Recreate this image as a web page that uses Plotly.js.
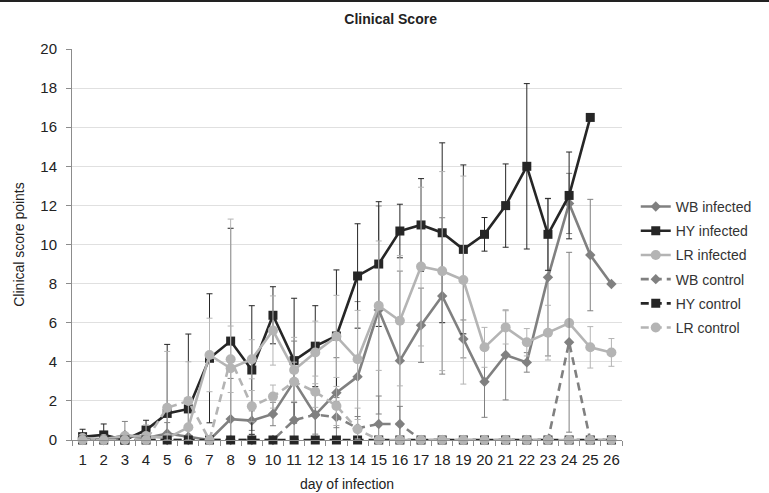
<!DOCTYPE html>
<html>
<head>
<meta charset="utf-8">
<script src="https://cdn.plot.ly/plotly-3.0.1.min.js"></script>
<style>
html,body{margin:0;padding:0;background:#fff;}
#bar{width:769px;height:2px;background:#222;}
#chart{width:769px;height:491px;}
</style>
</head>
<body>
<div id="bar"></div>
<div id="chart"></div>
<script>
const days = ['1','2','3','4','5','6','7','8','9','10','11','12','13','14','15','16','17','18','19','20','21','22','23','24','25','26'];

const wbInf    = [0.1,0.0,0.25,0.1,0.33,0.17,0.0,1.07,0.99,1.33,3.0,1.28,2.42,3.24,6.65,4.06,5.87,7.37,5.17,2.98,4.35,3.97,8.32,12.1,9.46,7.98];
const wbInfErr = [0,0,0.7,0,0.56,0,0,2.08,0.5,0.6,2.06,1.2,1.79,3.84,5.32,4.58,1.9,4.0,0.97,1.82,2.3,0.5,4.02,1.54,2.85,0];

const hyInf    = [0.17,0.26,0.0,0.51,1.36,1.59,4.18,5.06,3.58,6.38,4.06,4.8,5.32,8.39,9.0,10.69,11.0,10.6,9.75,10.52,11.99,14.0,10.52,12.51,16.5,null];
const hyInfErr = [0.38,0.56,0,0.5,3.53,3.83,3.3,5.77,3.29,1.46,3.19,2.07,3.38,2.67,3.19,1.37,2.37,4.6,4.32,0.86,2.13,4.23,1.84,2.22,0,0];

const lrInf    = [0.1,0.05,0.2,0.2,0.1,0.65,4.35,3.67,4.13,5.6,3.58,4.48,5.3,4.13,6.87,6.1,8.87,8.64,8.18,4.74,5.76,5.0,5.49,5.98,4.74,4.48];
const lrInfErr = [0,0,0,0.57,0,0,1.88,7.63,1.0,1.77,1.67,1.6,2.1,2.5,3.31,3.33,4.06,5.09,5.32,1.02,0.85,0.7,1.4,0,1.06,0.71];

const wbCtl    = [0,0,0,0,0,0,0,0,0,0,1.02,1.3,1.17,0.6,0.82,0.82,0,0,0,0,0,0,0,5.0,0,0];
const wbCtlErr = [0,0,0,0,0,0,0,0,0,0,0.9,1.0,1.0,0.6,1.43,0.9,0,0,0,0,0,0,0,4.6,0,0];

const hyCtl    = [0,0,0,0,0,0,0,0,0,0,0,0,0,0,0,0,0,0,0,0,0,0,0,0,0,0];
const hyCtlErr = [0,0,0,0,0,0,0,0,0,0,0,0,0,0,0,0,0,0,0,0,0,0,0,0,0,0];

const lrCtl    = [0,0,0,0,1.65,2.0,0,4.13,1.73,2.22,2.98,2.47,1.74,0.55,0,0,0,0,0,0,0,0,0,0,0,0];
const lrCtlErr = [0,0,0,0,2.88,2.0,0,1.7,0.8,0.59,1.0,0.8,1.0,0.5,0,0,0,0,0,0,0,0,0,0,0,0];

const seriesNames = ['WB infected','HY infected','LR infected','WB control','HY control','LR control'];

const cWB = '#808080', cHY = '#262626', cLR = '#b4b4b4';

function mk(name, y, err, color, symbol, size, dash){
  const minus = err.map((e,i)=> (y[i]===null ? 0 : Math.min(e, y[i])));
  return {
    type:'scatter', mode:'lines+markers', x:days, y:y, name:name,
    legendgroup:name, cliponaxis:false,
    line:{color:color, width:2.6, dash:dash},
    marker:{color:color, symbol:symbol, size:size},
    error_y:{type:'data', symmetric:false, array:err, arrayminus:minus,
             color:color, thickness:1, width:3, visible:true}
  };
}

const data = [
  mk(seriesNames[0], wbInf, wbInfErr, cWB, 'diamond', 8, 'solid'),
  mk(seriesNames[1], hyInf, hyInfErr, cHY, 'square', 9, 'solid'),
  mk(seriesNames[2], lrInf, lrInfErr, cLR, 'circle', 10, 'solid'),
  mk(seriesNames[3], wbCtl, wbCtlErr, cWB, 'diamond', 8, '8px,5px'),
  mk(seriesNames[4], hyCtl, hyCtlErr, cHY, 'square', 9, '8px,5px'),
  mk(seriesNames[5], lrCtl, lrCtlErr, cLR, 'circle', 10, '8px,5px')
];

const fam = 'Liberation Sans, Arial, sans-serif';

const layout = {
  width:769, height:491,
  margin:{l:72, r:147, t:47, b:53},
  paper_bgcolor:'#fff', plot_bgcolor:'#fff',
  font:{family:fam, size:14, color:'#222'},
  title:{text:'<b>Clinical Score</b>', font:{family:fam, size:14, color:'#222'},
         xref:'container', x:0.508, xanchor:'center', yref:'container', y:0.966, yanchor:'middle'},
  xaxis:{type:'category', range:[-0.5,25.5], showgrid:false, showline:true, linecolor:'#8c8c8c', linewidth:1,
         ticks:'outside', tickson:'boundaries', ticklen:5, tickcolor:'#8c8c8c', tickangle:0,
         ticklabelstandoff:6,
         tickfont:{family:fam, size:15, color:'#222'},
         title:{text:'day of infection', font:{family:fam, size:14, color:'#222'}, standoff:12},
         zeroline:false, fixedrange:true},
  yaxis:{range:[0,20], dtick:2, showgrid:true, gridcolor:'#e0e0e0', gridwidth:1,
         showline:true, linecolor:'#8c8c8c', linewidth:1, ticks:'outside', ticklen:5, tickcolor:'#8c8c8c',
         ticklabelstandoff:6,
         tickfont:{family:fam, size:15, color:'#222'}, zeroline:false,
         title:{text:'Clinical score points', font:{family:fam, size:14, color:'#222'}, standoff:12}},
  showlegend:true,
  legend:{x:1.025, xanchor:'left', y:0.637, yanchor:'top', traceorder:'grouped', tracegroupgap:3,
          font:{family:fam, size:14, color:'#333'}, itemwidth:30, bgcolor:'rgba(0,0,0,0)'}
};

Plotly.newPlot('chart', data, layout, {displayModeBar:false, staticPlot:true});
</script>
</body>
</html>
